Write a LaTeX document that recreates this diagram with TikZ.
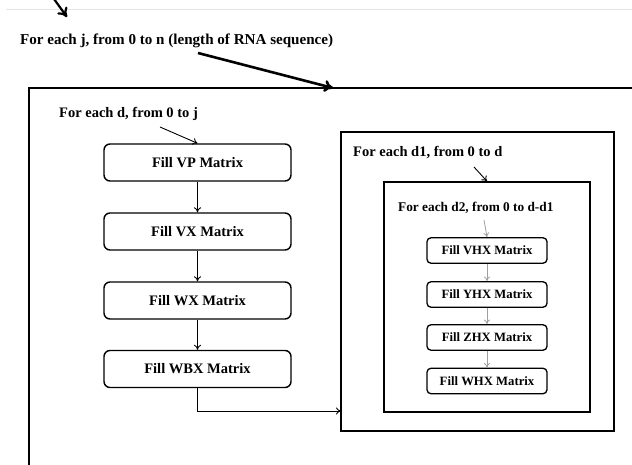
\documentclass[tikz,border=0pt]{standalone}
\usepackage{fontspec}
\setmainfont{Liberation Serif}
\usetikzlibrary{arrows.meta}
\begin{document}
\begin{tikzpicture}[x=1pt,y=-1pt,
  fillbox/.style={draw, line width=1.4pt, rounded corners=6pt,
    minimum width=187pt, minimum height=37pt, inner sep=0pt,
    font=\fontsize{14.5}{16}\selectfont\bfseries},
  smallbox/.style={draw, line width=1.3pt, rounded corners=4pt,
    minimum width=120pt, minimum height=25.5pt, inner sep=0pt,
    font=\fontsize{12.7}{14}\selectfont\bfseries},
  loopbox/.style={draw, line width=1.5pt, inner sep=0pt},
  looplabel/.style={inner sep=0pt, anchor=west,
    font=\fontsize{14.5}{16}\selectfont\bfseries},
  innerlabel/.style={inner sep=0pt, anchor=west,
    font=\fontsize{13.3}{15}\selectfont\bfseries},
  flow/.style={-{To[length=5pt,width=7pt]}, line width=0.9pt},
  softflow/.style={-{To[length=4.5pt,width=6pt]}, line width=0.8pt, gray!75},
  bigflow/.style={-{To[length=9pt,width=12pt]}, line width=2.6pt}]
\useasboundingbox (0,0) rectangle (632,465);

% faint rule and arrow tip entering from above
\draw[gray!20, line width=0.8pt] (6,9) -- (632,9);
\coordinate (toptail) at (54,-1);
\coordinate (tophead) at (67,17);
\draw[bigflow, line width=2.2pt] (toptail) -- (tophead);

% outermost loop over j
\node[looplabel, font=\fontsize{15.1}{17}\selectfont\bfseries] (lj) at (20,41)
  {For each j, from 0 to n (length of RNA sequence)};
\draw[line width=1.8pt] (29,466) |- (633,88);
\coordinate (jtail) at (198,53);
\coordinate (jhead) at (333,88);
\draw[bigflow] (jtail) -- (jhead);

% loop over d
\node[looplabel] (ld) at (59,114) {For each d, from 0 to j};
\node[fillbox] (vp)  at (197.5,162.5) {Fill VP Matrix};
\node[fillbox] (vx)  at (197.5,231.5) {Fill VX Matrix};
\node[fillbox] (wx)  at (197.5,300.5) {Fill WX Matrix};
\node[fillbox] (wbx) at (197.5,369)   {Fill WBX Matrix};
\coordinate (dtail) at (160,127);
\draw[flow] (dtail) -- (vp.north);
\draw[flow] (vp) -- (vx);
\draw[flow] (vx) -- (wx);
\draw[flow] (wx) -- (wbx);

% nested loops over d1 and d2
\node[loopbox, minimum width=273pt, minimum height=299pt] (loopd1) at (477.5,281.5) {};
\node[loopbox, minimum width=206pt, minimum height=230pt] (loopd2) at (487,297) {};
\node[looplabel] (ld1) at (353,153) {For each d1, from 0 to d};
\node[innerlabel] (ld2) at (398,208) {For each d2, from 0 to d-d1};
\coordinate (d1tail) at (474,167);
\draw[flow] (d1tail) -- (loopd2.north);

\node[smallbox] (vhx) at (487,250.5) {Fill VHX Matrix};
\node[smallbox] (yhx) at (487,294.5) {Fill YHX Matrix};
\node[smallbox] (zhx) at (487,337.5) {Fill ZHX Matrix};
\node[smallbox] (whx) at (487,381)   {Fill WHX Matrix};
\coordinate (d2tail) at (484,220);
\draw[softflow] (d2tail) -- (vhx.north);
\draw[softflow] (vhx) -- (yhx);
\draw[softflow] (yhx) -- (zhx);
\draw[softflow] (zhx) -- (whx);

% hand-off from the d loop into the d1 loop
\coordinate (wbxin) at (341,411);
\draw[flow] (wbx.south) |- (wbxin);
\end{tikzpicture}
\end{document}
